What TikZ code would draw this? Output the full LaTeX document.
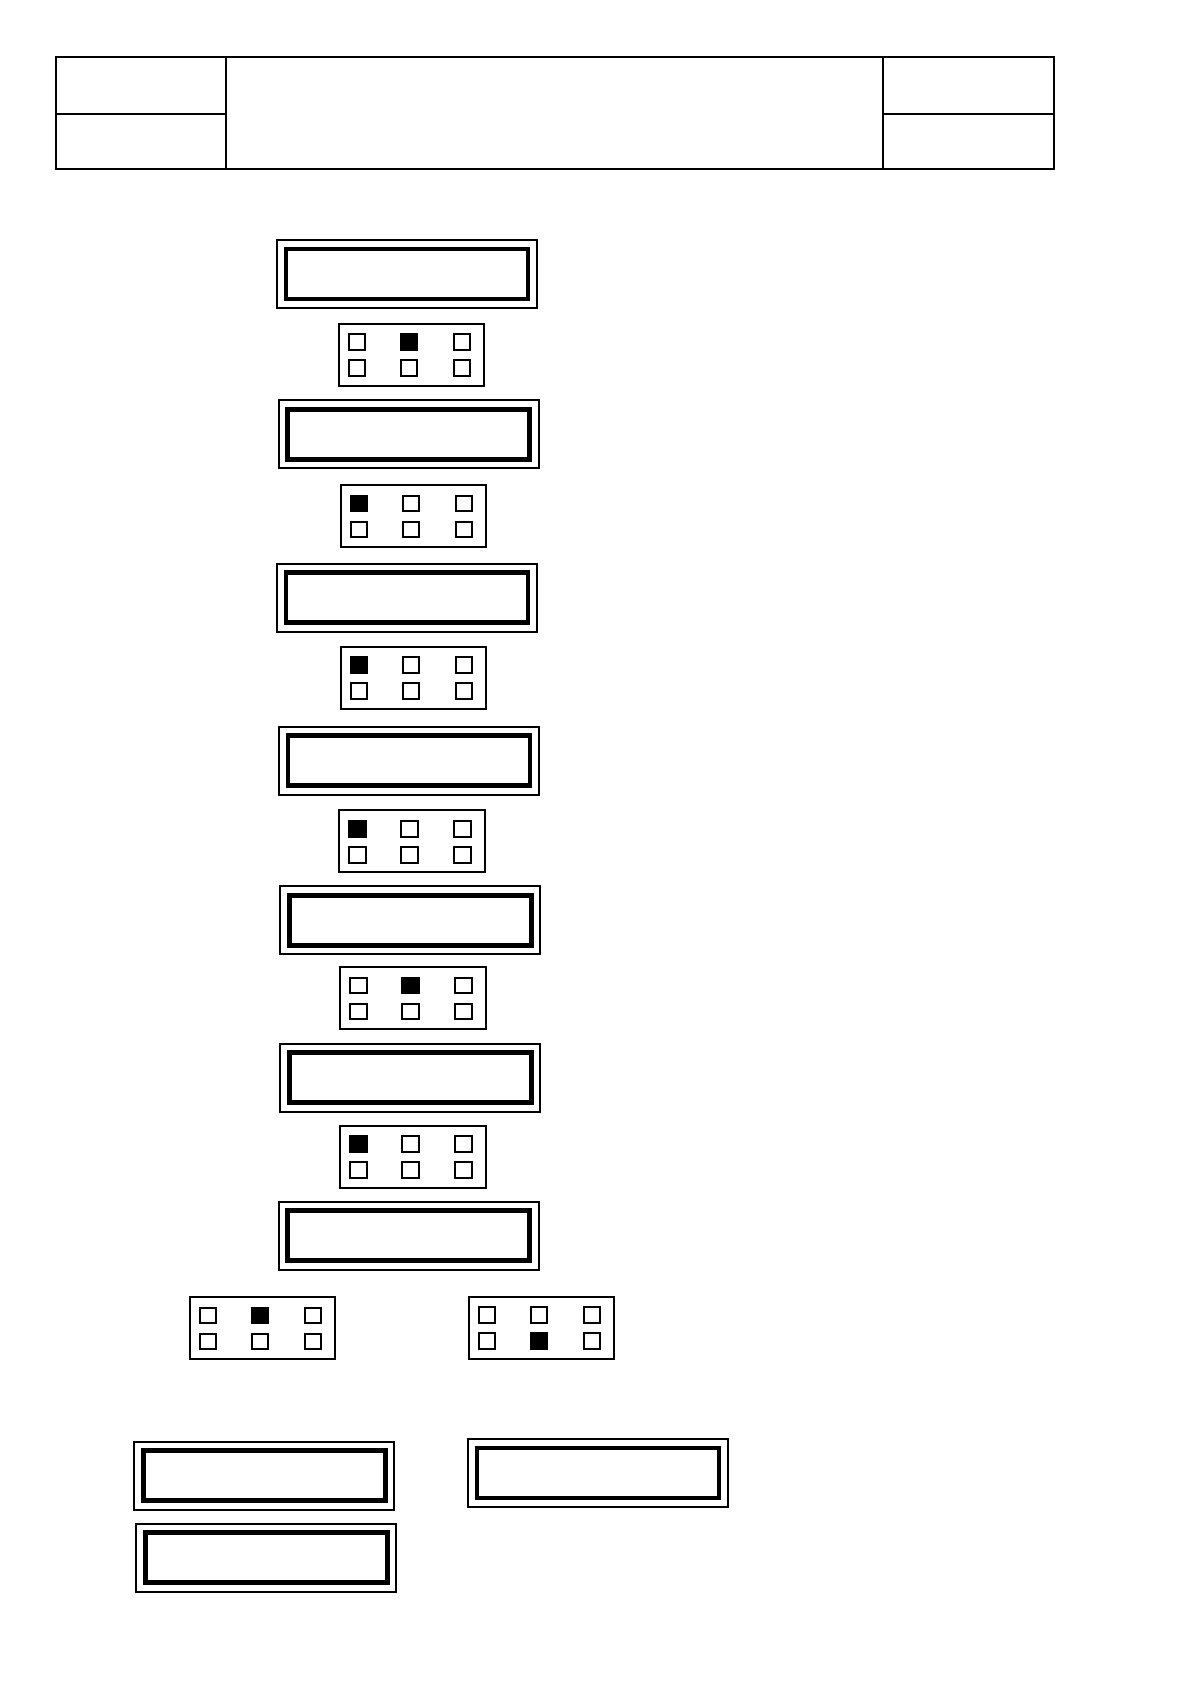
\documentclass[tikz,border=0pt]{standalone}
\usetikzlibrary{positioning}
\begin{document}
\begin{tikzpicture}[x=1pt,y=-1pt,
  lcdout/.style={draw, line width=2pt, minimum width=260pt, minimum height=68pt, inner sep=0pt, outer sep=0pt},
  lcdin/.style={draw, line width=4.6pt, minimum width=242pt, minimum height=50pt, inner sep=0pt, outer sep=0pt},
  keypad/.style={draw, line width=2pt, minimum width=145.5pt, minimum height=62pt, inner sep=0pt, outer sep=0pt},
  keysq/.style={draw, line width=2pt, minimum width=16.5pt, minimum height=15.5pt, inner sep=0pt, outer sep=0pt},
  tableline/.style={line width=1.6pt}]
\useasboundingbox (0,0) rectangle (1190,1684);

% header table
\draw[tableline] (56,57) rectangle (1054,169);
\draw[tableline] (226,57) -- (226,169);
\draw[tableline] (883,57) -- (883,169);
\draw[tableline] (56,114) -- (226,114);
\draw[tableline] (883,114) -- (1054,114);

\newcommand{\lcdpanel}[3]{%
  \node[lcdout] (#1) at (#2,#3) {};
  \node[lcdin] (#1in) at (#1.center) {};}

\newcommand{\keypadbox}[4]{%
  \node[keypad] (#1) at (#2,#3) {};
  \foreach \r/\dy in {1/-12.5,2/13.5}{%
    \foreach \c/\dx in {1/-54.5,2/-2.5,3/50.5}{%
      \ifnum\numexpr\r*10+\c\relax=#4 \def\kf{black}\else\def\kf{white}\fi
      \node[keysq, fill=\kf] (#1-\r\c) at ([shift={(\dx,\dy)}]#1.center) {};
    }}}

\lcdpanel{l1}{407}{273.8}
\keypadbox{k1}{411.5}{354.7}{12}
\lcdpanel{l2}{408.7}{434.3}
\keypadbox{k2}{413.3}{515.8}{11}
\lcdpanel{l3}{406.8}{597.5}
\keypadbox{k3}{413.3}{677.5}{11}
\lcdpanel{l4}{408.8}{760.7}
\keypadbox{k4}{412.2}{841.3}{11}
\lcdpanel{l5}{410.3}{920.3}
\keypadbox{k5}{412.8}{997.8}{12}
\lcdpanel{l6}{410.3}{1077.5}
\keypadbox{k6}{412.8}{1156.7}{11}
\lcdpanel{l7}{408.5}{1235.7}
\keypadbox{k7a}{262.3}{1327.8}{12}
\keypadbox{k7b}{541.3}{1327.7}{22}
\lcdpanel{l8a}{264.3}{1475.5}
\lcdpanel{l8b}{598}{1472.8}
\lcdpanel{l9}{266.2}{1557.5}
\end{tikzpicture}
\end{document}
